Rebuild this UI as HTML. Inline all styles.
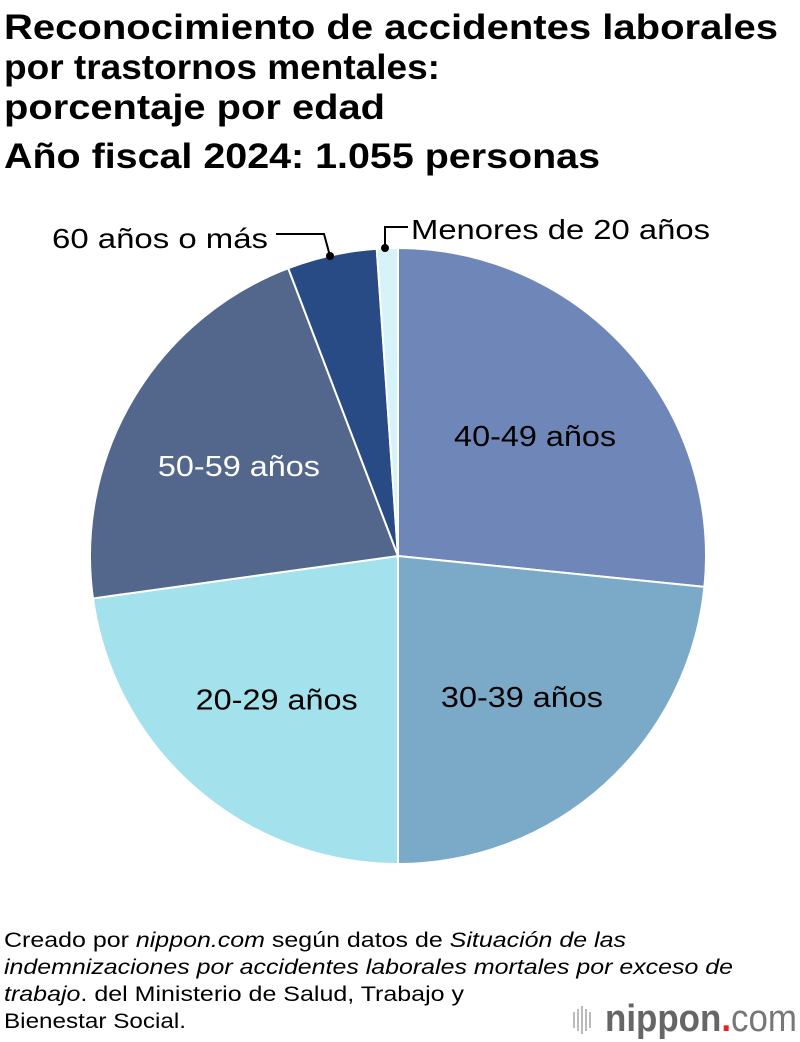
<!DOCTYPE html>
<html><head><meta charset="utf-8"><style>
body{margin:0;background:#fff;}
svg{display:block;font-family:"Liberation Sans",Arial,sans-serif;}
</style></head><body>
<svg id="chart" width="800" height="1042" viewBox="0 0 800 1042">
<g font-weight="bold" font-size="35" fill="#000">
<text x="4" y="39" textLength="774" lengthAdjust="spacingAndGlyphs">Reconocimiento de accidentes laborales</text>
<text x="4" y="79" textLength="436" lengthAdjust="spacingAndGlyphs">por trastornos mentales:</text>
<text x="4" y="119" textLength="381" lengthAdjust="spacingAndGlyphs">porcentaje por edad</text>
<text x="4" y="168" textLength="596" lengthAdjust="spacingAndGlyphs">Año fiscal 2024: 1.055 personas</text>
</g>
<g id="slices"></g>
<g id="labels" font-size="29"></g>
<g stroke="#000" stroke-width="2" fill="none">
<polyline points="276,234 324,234 330,256"/>
<polyline points="408,227 385,227 385,248"/>
</g>
<circle cx="330" cy="256" r="4" fill="#000"/>
<circle cx="385" cy="248" r="4" fill="#000"/>
<text x="268" y="248" font-size="28" text-anchor="end" textLength="216" lengthAdjust="spacingAndGlyphs">60 años o más</text>
<text x="411" y="239" font-size="28" textLength="299" lengthAdjust="spacingAndGlyphs">Menores de 20 años</text>
<g font-size="21" fill="#000">
<text x="4" y="947" textLength="622" lengthAdjust="spacingAndGlyphs">Creado por <tspan font-style="italic">nippon.com</tspan> según datos de <tspan font-style="italic">Situación de las</tspan></text>
<text x="4" y="974" font-style="italic" textLength="729" lengthAdjust="spacingAndGlyphs">indemnizaciones por accidentes laborales mortales por exceso de</text>
<text x="4" y="1001" textLength="460" lengthAdjust="spacingAndGlyphs"><tspan font-style="italic">trabajo</tspan>. del Ministerio de Salud, Trabajo y</text>
<text x="4" y="1028" textLength="182" lengthAdjust="spacingAndGlyphs">Bienestar Social.</text>
</g>
<g>
<g fill="#bbb"><rect x="573" y="1012" width="2" height="16"/><rect x="577" y="1009" width="2" height="22"/><rect x="581" y="1006" width="2" height="28"/><rect x="585" y="1009" width="2" height="22"/><rect x="589" y="1012" width="2" height="16"/></g>
<text x="605" y="1031" font-size="38" font-weight="bold" fill="#666" textLength="192" lengthAdjust="spacingAndGlyphs">nippon<tspan fill="#e8202a">.</tspan><tspan font-weight="normal" fill="#777">com</tspan></text>
</g>
</svg>
<script>
const categories=["40-49 años","30-39 años","20-29 años","50-59 años","60 años o más","Menores de 20 años"];
const values=[26.6,23.4,22.8,21.4,4.7,1.1];
const colors=["#6f87b8","#7aaac8","#a3e1ec","#53668c","#284a85","#d5f3f8"];
const labelColors=["#000","#000","#000","#fff",null,null];
const cx=398,cy=556,r=308;
const ns="http://www.w3.org/2000/svg";
const total=values.reduce((a,b)=>a+b,0);
function pt(a,rad){return [cx+rad*Math.sin(a),cy-rad*Math.cos(a)];}
let acc=0;
const sg=document.getElementById('slices'),lg=document.getElementById('labels');
values.forEach((v,i)=>{
 const a0=acc/total*2*Math.PI;acc+=v;const a1=acc/total*2*Math.PI;
 const p0=pt(a0,r),p1=pt(a1,r);const large=(a1-a0)>Math.PI?1:0;
 const p=document.createElementNS(ns,'path');
 p.setAttribute('d',`M${cx},${cy}L${p0[0]},${p0[1]}A${r},${r} 0 ${large} 1 ${p1[0]},${p1[1]}Z`);
 p.setAttribute('fill',colors[i]);p.setAttribute('stroke','#fff');p.setAttribute('stroke-width','2');
 
 
 sg.appendChild(p);
 if(labelColors[i]){
  const m=(a0+a1)/2,lp=pt(m,r*0.6);
  const t=document.createElementNS(ns,'text');
  t.setAttribute('x',lp[0]);t.setAttribute('y',lp[1]+14);t.setAttribute('text-anchor','middle');
  t.setAttribute('textLength','162');t.setAttribute('lengthAdjust','spacingAndGlyphs');
  t.setAttribute('fill',labelColors[i]);t.textContent=categories[i];
  
  
  lg.appendChild(t);
 }
});
</script>
</body></html>
